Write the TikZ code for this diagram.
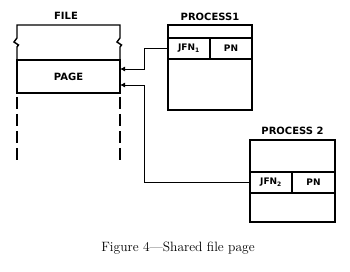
\documentclass[tikz,border=0pt]{standalone}
\usepackage{fontspec}
\newfontfamily\lblfont{DejaVu Sans}
\usetikzlibrary{arrows.meta,positioning}
\tikzset{
	cell/.style={
		draw, rectangle, line width=1.4pt,
		inner sep=0pt, outer sep=0pt, anchor=north west,
		font=\lblfont\bfseries\fontsize{9}{11}\selectfont
	},
	title/.style={font=\lblfont\bfseries\fontsize{10}{12}\selectfont, inner sep=0pt},
	wall/.style={line width=1.4pt},
	cutoff/.style={line width=1.4pt, dash pattern=on 12pt off 5pt},
	link/.style={-{Latex[length=5pt,width=5pt]}, line width=0.8pt}
}

\begin{document}
\begin{tikzpicture}[x=1pt,y=-1pt]
				\useasboundingbox (0,0) rectangle (350,272);
				\node[cell, minimum width=103pt, minimum height=33pt, font=\lblfont\bfseries\fontsize{10}{12}\selectfont] (page) at (17,60) {PAGE};
				\draw[wall] (page.north west) -- (17,47) -- (18.5,45) -- (14,42) -- (17,38) -- (17,25)
					-- (120,25) -- (120,38) -- (117,42) -- (121.5,45) -- (120,47) -- (page.north east);
				\node[title] (filelbl) at (66,16) {FILE};
				\draw[cutoff] ([yshift=-4pt]page.south west) -- ++(0,63);
				\draw[cutoff] ([yshift=-4pt]page.south east) -- ++(0,63);
				\node[cell, minimum width=84pt, minimum height=13pt] (ptopA) at (168,25) {};
				\node[cell, minimum width=42pt, minimum height=21pt] (jfnA) at (ptopA.south west) {JFN\textsubscript{1}};
				\node[cell, minimum width=42pt, minimum height=21pt] (pnA) at (jfnA.north east) {PN};
				\node[cell, minimum width=84pt, minimum height=51pt] (pbotA) at (jfnA.south west) {};
				\node[title, above=4pt of ptopA] (procA) {PROCESS1};
				\node[cell, minimum width=85pt, minimum height=32pt] (ptopB) at (250,140) {};
				\node[cell, minimum width=42pt, minimum height=21pt] (jfnB) at (ptopB.south west) {JFN\textsubscript{2}};
				\node[cell, minimum width=43pt, minimum height=21pt] (pnB) at (jfnB.north east) {PN};
				\node[cell, minimum width=85pt, minimum height=29pt] (pbotB) at (jfnB.south west) {};
				\node[title, above=5pt of ptopB] (procB) {PROCESS 2};
				\draw[link] (jfnA.west) -- ++(-24,0) |- ([yshift=7.5pt]page.east);
				\draw[link] (jfnB.west) -- ++(-106,0) |- ([yshift=-8.5pt]page.east);
				\node[font=\fontsize{13.5}{16}\selectfont] (caption) at (178,248) {Figure 4---Shared file page};
			\end{tikzpicture}
\end{document}
